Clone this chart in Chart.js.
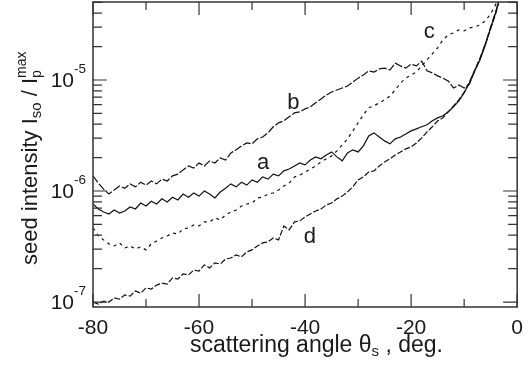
<!DOCTYPE html>
<html>
<head>
<meta charset="utf-8">
<script src="https://cdn.jsdelivr.net/npm/chart.js@4.4.1/dist/chart.umd.min.js"></script>
<style>
  html, body { margin: 0; padding: 0; background: #fff; }
  #wrap { width: 532px; height: 368px; }
</style>
</head>
<body>
<div id="wrap"><canvas id="myChart"></canvas></div>
<script>
const angles = [
  -80, -79, -78, -77, -76, -75, -74, -73, -72, -71,
  -70, -69, -68, -67, -66, -65, -64, -63, -62, -61,
  -60, -59, -58, -57, -56, -55, -54, -53, -52, -51,
  -50, -49, -48, -47, -46, -45, -44, -43, -42, -41,
  -40, -39, -38, -37, -36, -35, -34, -33, -32, -31,
  -30, -29, -28, -27, -26, -25, -24, -23, -22, -21,
  -20, -19, -18, -17, -16, -15, -14, -13, -12, -11,
  -10, -9, -8, -7, -6, -5, -4, -3.5,
];

const seriesA = [
  7.64e-7, 6.89e-7, 6.47e-7, 6.21e-7, 6.74e-7, 6.34e-7, 6.61e-7, 7.18e-7, 6.89e-7, 7.8e-7,
  7.33e-7, 8.1e-7, 7.64e-7, 8.5e-7, 7.96e-7, 8.8e-7, 8.3e-7, 9.4e-7, 8.8e-7, 9.6e-7,
  9.0e-7, 1.0e-6, 9.4e-7, 8.65e-7, 9.8e-7, 1.06e-6, 1.16e-6, 1.09e-6, 1.2e-6, 1.13e-6,
  1.26e-6, 1.2e-6, 1.34e-6, 1.28e-6, 1.42e-6, 1.37e-6, 1.52e-6, 1.58e-6, 1.68e-6, 1.79e-6,
  1.72e-6, 1.9e-6, 2.03e-6, 1.95e-6, 2.11e-6, 2.25e-6, 2.03e-6, 1.87e-6, 2.2e-6, 2.35e-6,
  2.25e-6, 2.55e-6, 3.14e-6, 3.34e-6, 3.07e-6, 2.83e-6, 2.66e-6, 2.95e-6, 3.07e-6, 3.27e-6,
  3.48e-6, 3.63e-6, 3.79e-6, 3.95e-6, 4.29e-6, 4.56e-6, 4.76e-6, 5.17e-6, 5.74e-6, 6.5e-6,
  7.63e-6, 9.4e-6, 1.21e-5, 1.52e-5, 2.07e-5, 2.95e-5, 4.11e-5, 5.06e-5,
];

const seriesB = [
  1.37e-6, 1.18e-6, 1.04e-6, 9.4e-7, 1.02e-6, 1.11e-6, 1.06e-6, 1.16e-6, 1.09e-6, 1.2e-6,
  1.13e-6, 1.23e-6, 1.16e-6, 1.28e-6, 1.23e-6, 1.37e-6, 1.42e-6, 1.55e-6, 1.68e-6, 1.61e-6,
  1.79e-6, 1.68e-6, 1.87e-6, 1.79e-6, 1.99e-6, 1.9e-6, 2.2e-6, 2.35e-6, 2.55e-6, 2.71e-6,
  2.66e-6, 2.95e-6, 3.07e-6, 3.34e-6, 3.79e-6, 4.11e-6, 4.29e-6, 4.66e-6, 5.06e-6, 5.17e-6,
  5.5e-6, 5.74e-6, 6.23e-6, 6.74e-6, 7.32e-6, 7.8e-6, 8.12e-6, 8.47e-6, 8.83e-6, 9.59e-6,
  1.04e-5, 1.11e-5, 1.21e-5, 1.18e-5, 1.26e-5, 1.28e-5, 1.23e-5, 1.42e-5, 1.34e-5, 1.28e-5,
  1.39e-5, 1.34e-5, 1.48e-5, 1.21e-5, 1.16e-5, 1.09e-5, 1.04e-5, 9.8e-6, 8.47e-6, 9.01e-6,
  8.47e-6, 9.2e-6, 1.21e-5, 1.55e-5, 2.11e-5, 3.01e-5, 4.2e-5, 5.17e-5,
];

const seriesC = [
  4.65e-7, 3.94e-7, 3.63e-7, 3.34e-7, 3.2e-7, 3.41e-7, 3.07e-7, 3.2e-7, 3.01e-7, 3.14e-7,
  2.95e-7, 3.34e-7, 3.55e-7, 3.78e-7, 3.94e-7, 4.19e-7, 4.11e-7, 4.56e-7, 4.65e-7, 4.95e-7,
  4.85e-7, 5.27e-7, 5.27e-7, 5.73e-7, 5.49e-7, 6.1e-7, 6.47e-7, 6.74e-7, 7.33e-7, 7.64e-7,
  7.8e-7, 8.65e-7, 8.8e-7, 9.4e-7, 9.6e-7, 1.02e-6, 1.11e-6, 1.18e-6, 1.34e-6, 1.39e-6,
  1.48e-6, 1.58e-6, 1.68e-6, 1.83e-6, 1.95e-6, 2.07e-6, 2.3e-6, 2.6e-6, 2.95e-6, 3.48e-6,
  4.11e-6, 4.86e-6, 5.62e-6, 5.86e-6, 6.23e-6, 6.63e-6, 7.17e-6, 8.12e-6, 9.4e-6, 1.04e-5,
  1.11e-5, 1.18e-5, 1.34e-5, 1.52e-5, 1.72e-5, 1.95e-5, 2.3e-5, 2.55e-5, 2.66e-5, 2.83e-5,
  2.77e-5, 2.95e-5, 3.01e-5, 3.14e-5, 3.41e-5, 3.94e-5, 4.85e-5, 5.28e-5,
];

const seriesD = [
  1.0e-7, 9.6e-8, 1.02e-7, 1.0e-7, 1.09e-7, 1.06e-7, 1.16e-7, 1.13e-7, 1.26e-7, 1.2e-7,
  1.34e-7, 1.31e-7, 1.42e-7, 1.48e-7, 1.45e-7, 1.65e-7, 1.61e-7, 1.79e-7, 1.75e-7, 1.94e-7,
  1.9e-7, 2.16e-7, 2.03e-7, 2.25e-7, 2.2e-7, 2.44e-7, 2.49e-7, 2.66e-7, 2.55e-7, 2.83e-7,
  2.95e-7, 3.2e-7, 3.41e-7, 3.48e-7, 3.78e-7, 3.63e-7, 4.85e-7, 4.46e-7, 5.27e-7, 5.38e-7,
  5.85e-7, 6.22e-7, 6.61e-7, 6.89e-7, 7.48e-7, 7.8e-7, 8.5e-7, 9.0e-7, 9.8e-7, 1.09e-6,
  1.26e-6, 1.34e-6, 1.48e-6, 1.52e-6, 1.68e-6, 1.83e-6, 1.95e-6, 2.11e-6, 2.25e-6, 2.4e-6,
  2.5e-6, 2.71e-6, 3.01e-6, 3.41e-6, 3.79e-6, 4.29e-6, 4.56e-6, 5.17e-6, 5.86e-6, 6.63e-6,
  7.8e-6, 9.59e-6, 1.23e-5, 1.58e-5, 2.11e-5, 2.89e-5, 4.02e-5, 4.95e-5,
];

// tick positions and labels
const xMajorTicks = [-80, -60, -40, -20, 0];
const xMinorTicks = [-70, -50, -30, -10];
const yMajorTicks = [1e-7, 1e-6, 1e-5];
const yTickExponents = ["-7", "-6", "-5"];
const yMinorTicks = [
  2e-7, 3e-7, 4e-7, 5e-7, 6e-7, 7e-7, 8e-7, 9e-7,
  2e-6, 3e-6, 4e-6, 5e-6, 6e-6, 7e-6, 8e-6, 9e-6,
  2e-5, 3e-5, 4e-5, 5e-5,
];

// curve names placed next to the curves
const curveNames = ["a", "b", "c", "d"];
const curveNameAngles = [-47.9, -42.2, -16.6, -39.1];
const curveNameValues = [1.79e-6, 6.2e-6, 2.7e-5, 3.86e-7];

const FONT = '"Liberation Sans", Arial, Helvetica, sans-serif';
const INK = "#1a1a1a";

function toPoints(values) {
  return angles.map((a, i) => ({ x: a, y: values[i] }));
}

const framePlugin = {
  id: "frame",
  afterDraw(chart) {
    const { ctx, chartArea: area, scales } = chart;
    const xs = scales.x;
    const ys = scales.y;
    ctx.save();

    // box
    ctx.strokeStyle = "#333";
    ctx.lineWidth = 1.5;
    ctx.strokeRect(area.left, area.top, area.right - area.left, area.bottom - area.top);

    // inward ticks
    ctx.lineWidth = 1.2;
    ctx.beginPath();
    function xTick(v, len) {
      const px = xs.getPixelForValue(v);
      ctx.moveTo(px, area.bottom);
      ctx.lineTo(px, area.bottom - len);
      ctx.moveTo(px, area.top);
      ctx.lineTo(px, area.top + len);
    }
    function yTick(v, len) {
      const py = ys.getPixelForValue(v);
      ctx.moveTo(area.left, py);
      ctx.lineTo(area.left + len, py);
      ctx.moveTo(area.right, py);
      ctx.lineTo(area.right - len, py);
    }
    xMajorTicks.forEach((v) => xTick(v, 13));
    xMinorTicks.forEach((v) => xTick(v, 8));
    yMajorTicks.forEach((v) => yTick(v, 14));
    yMinorTicks.forEach((v) => yTick(v, 9));
    ctx.stroke();

    ctx.fillStyle = INK;
    ctx.textBaseline = "alphabetic";

    // y tick labels 10^n
    yMajorTicks.forEach((v, i) => {
      const py = ys.getPixelForValue(v);
      ctx.font = "13.5px " + FONT;
      const supW = ctx.measureText(yTickExponents[i]).width;
      ctx.textAlign = "right";
      ctx.fillText(yTickExponents[i], 86, py - 7);
      ctx.font = "21px " + FONT;
      ctx.fillText("10", 86 - supW, py + 7);
    });

    // y title, rotated
    ctx.save();
    ctx.translate(37, 265);
    ctx.rotate(-Math.PI / 2);
    ctx.textAlign = "left";
    let tx = 0;
    ctx.font = "22px " + FONT;
    ctx.fillText("seed intensity I", tx, 0);
    tx += ctx.measureText("seed intensity I").width;
    ctx.font = "15px " + FONT;
    ctx.fillText("so", tx, 4);
    tx += ctx.measureText("so").width;
    ctx.font = "22px " + FONT;
    ctx.fillText(" / I", tx, 0);
    tx += ctx.measureText(" / I").width;
    ctx.font = "14px " + FONT;
    ctx.fillText("p", tx, 4);
    ctx.fillText("max", tx, -11);
    ctx.restore();

    // x title
    ctx.textAlign = "left";
    let sx = 190;
    ctx.font = "23px " + FONT;
    ctx.fillText("scattering angle \u03b8", sx, 352);
    sx += ctx.measureText("scattering angle \u03b8").width;
    ctx.font = "15px " + FONT;
    ctx.fillText("s", sx, 356);
    sx += ctx.measureText("s").width;
    ctx.font = "23px " + FONT;
    ctx.fillText(" , deg.", sx, 352);

    // curve names
    ctx.font = "22px " + FONT;
    ctx.textAlign = "center";
    ctx.textBaseline = "middle";
    curveNames.forEach((n, i) => {
      ctx.fillText(n, xs.getPixelForValue(curveNameAngles[i]), ys.getPixelForValue(curveNameValues[i]));
    });

    ctx.restore();
  },
};

function lineSet(label, values, dash) {
  return {
    label: label,
    data: toPoints(values),
    borderColor: "#111",
    borderWidth: 1.2,
    borderDash: dash,
    pointRadius: 0,
    tension: 0,
    fill: false,
  };
}

new Chart(document.getElementById("myChart"), {
  type: "line",
  data: {
    datasets: [
      lineSet("a", seriesA, []),
      lineSet("b", seriesB, [8, 2]),
      lineSet("c", seriesC, [3, 4]),
      lineSet("d", seriesD, [6, 2]),
    ],
  },
  options: {
    responsive: true,
    maintainAspectRatio: false,
    animation: false,
    layout: { padding: { top: 2, right: 11, left: 0, bottom: 0 } },
    plugins: {
      legend: { display: false },
      tooltip: { enabled: false },
    },
    scales: {
      x: {
        type: "linear",
        min: -80,
        max: 0,
        ticks: {
          stepSize: 20,
          color: INK,
          padding: 9,
          maxRotation: 0,
          font: { family: FONT, size: 21 },
        },
        grid: { display: false, drawTicks: false },
        border: { display: false },
        afterFit: (s) => { s.height = 61; },
      },
      y: {
        type: "logarithmic",
        min: 9.02e-8,
        max: 5.045e-5,
        ticks: { display: false },
        grid: { display: false, drawTicks: false },
        border: { display: false },
        afterFit: (s) => { s.width = 93; },
      },
    },
  },
  plugins: [framePlugin],
});
</script>
</body>
</html>
